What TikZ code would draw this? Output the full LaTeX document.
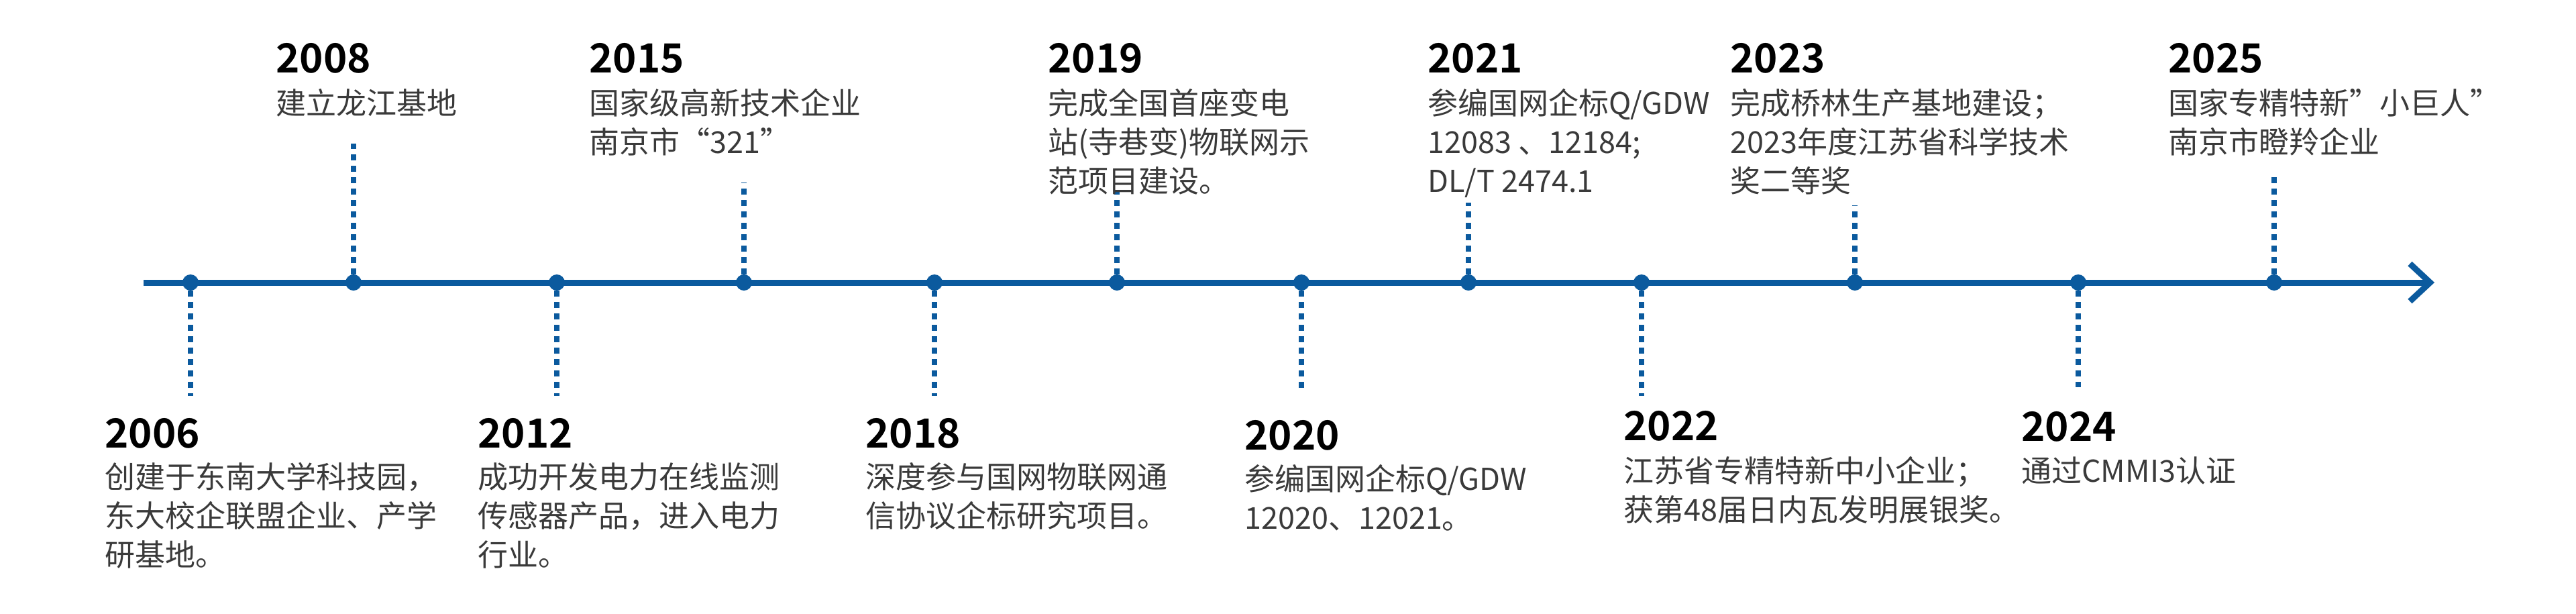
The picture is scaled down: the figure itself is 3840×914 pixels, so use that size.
\documentclass[tikz,border=0pt]{standalone}
\usepackage{fontspec}
\setmainfont{Noto Sans CJK SC}[BoldFont={Noto Sans CJK SC Bold}]
\usetikzlibrary{arrows.meta}
\definecolor{tblue}{HTML}{0B5A9E}
\definecolor{tgray}{HTML}{3A3A3A}
\begin{document}
\begin{tikzpicture}[x=1pt,y=-1pt,
  dot/.style={circle,fill=tblue,inner sep=0pt,minimum size=24pt},
  stem/.style={draw=tblue,line width=8pt,dash pattern=on 9pt off 8pt},
  year/.style={anchor=base west,inner sep=0pt,font=\fontsize{60}{66}\selectfont\bfseries,text=black},
  desc/.style={anchor=base west,inner sep=0pt,font=\fontsize{45}{58}\selectfont,text=tgray}]
\useasboundingbox (0,0) rectangle (3840,914);
\coordinate (ls) at (214,421);
\coordinate (le) at (3629,421);
\draw[tblue,line width=9pt,-{Straight Barb[length=30pt,width=56pt,line width=9pt]}] (ls) -- (le);
% dots
\foreach \n/\x in {06/284,08/527,12/830,15/1109,18/1393,19/1665,20/1940,21/2189,22/2447,23/2765,24/3098,25/3390}
  \node[dot] (d\n) at (\x,421) {};
% stem ends
\coordinate (e06) at (284,590);
\coordinate (e08) at (527,214);
\coordinate (e12) at (830,590);
\coordinate (e15) at (1109,272);
\coordinate (e18) at (1393,590);
\coordinate (e19) at (1665,285);
\coordinate (e20) at (1940,586);
\coordinate (e21) at (2189,302);
\coordinate (e22) at (2447,590);
\coordinate (e23) at (2765,306);
\coordinate (e24) at (3098,577);
\coordinate (e25) at (3390,256);
\foreach \n in {06,08,12,15,18,19,20,21,22,23,24,25}
  \draw[stem] (d\n) -- (e\n);
% top labels
\node[year] (y08) at (411,108) {2008};
\node[desc] (t08) at (411,170) {\begin{tabular}[t]{@{}l@{}}建立龙江基地\end{tabular}};
\node[year] (y15) at (878,108) {2015};
\node[desc] (t15) at (878,170) {\begin{tabular}[t]{@{}l@{}}国家级高新技术企业\\南京市“321”\end{tabular}};
\node[year] (y19) at (1562,108) {2019};
\node[desc] (t19) at (1562,170) {\begin{tabular}[t]{@{}l@{}}完成全国首座变电\\站(寺巷变)物联网示\\范项目建设。\end{tabular}};
\node[year] (y21) at (2128,108) {2021};
\node[desc] (t21) at (2128,170) {\begin{tabular}[t]{@{}l@{}}参编国网企标Q/GDW\\12083 、12184;\\DL/T 2474.1\end{tabular}};
\node[year] (y23) at (2579,108) {2023};
\node[desc] (t23) at (2579,170) {\begin{tabular}[t]{@{}l@{}}完成桥林生产基地建设；\\2023年度江苏省科学技术\\奖二等奖\end{tabular}};
\node[year] (y25) at (3232,108) {2025};
\node[desc] (t25) at (3232,170) {\begin{tabular}[t]{@{}l@{}}国家专精特新"小巨人"\\南京市瞪羚企业\end{tabular}};
% bottom labels
\node[year] (y06) at (156,667) {2006};
\node[desc] (t06) at (156,727) {\begin{tabular}[t]{@{}l@{}}创建于东南大学科技园，\\东大校企联盟企业、产学\\研基地。\end{tabular}};
\node[year] (y12) at (712,667) {2012};
\node[desc] (t12) at (712,727) {\begin{tabular}[t]{@{}l@{}}成功开发电力在线监测\\传感器产品，进入电力\\行业。\end{tabular}};
\node[year] (y18) at (1290,667) {2018};
\node[desc] (t18) at (1290,727) {\begin{tabular}[t]{@{}l@{}}深度参与国网物联网通\\信协议企标研究项目。\end{tabular}};
\node[year] (y20) at (1855,670) {2020};
\node[desc] (t20) at (1855,730) {\begin{tabular}[t]{@{}l@{}}参编国网企标Q/GDW\\12020、12021。\end{tabular}};
\node[year] (y22) at (2420,656) {2022};
\node[desc] (t22) at (2420,718) {\begin{tabular}[t]{@{}l@{}}江苏省专精特新中小企业；\\获第48届日内瓦发明展银奖。\end{tabular}};
\node[year] (y24) at (3013,657) {2024};
\node[desc] (t24) at (3013,718) {\begin{tabular}[t]{@{}l@{}}通过CMMI3认证\end{tabular}};
\end{tikzpicture}
\end{document}
